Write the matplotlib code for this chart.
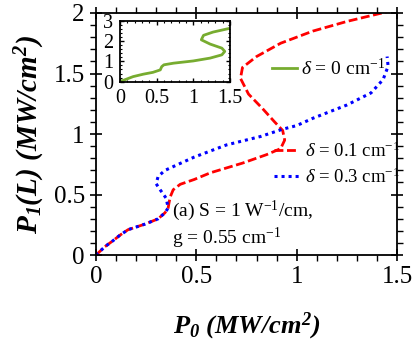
import matplotlib
matplotlib.use("Agg")
import matplotlib.pyplot as plt
from matplotlib.ticker import MultipleLocator, FuncFormatter

plt.rcParams['font.family'] = ['Liberation Serif', 'DejaVu Serif']
plt.rcParams['mathtext.fontset'] = 'custom'
plt.rcParams['mathtext.rm'] = 'Liberation Serif'
plt.rcParams['mathtext.it'] = 'Liberation Serif:italic'
plt.rcParams['mathtext.bf'] = 'Liberation Serif:bold'
plt.rcParams['mathtext.bfit'] = 'Liberation Serif:italic:bold'
plt.rcParams['mathtext.fallback'] = 'stix'

# delta = 0.1 cm^-1 (red dashed), traced as (P0, P1)
p0_d01 = [0.0, 0.045, 0.086, 0.12, 0.16, 0.244, 0.31, 0.344, 0.36, 0.364, 0.37, 0.385, 0.42,
          0.49, 0.57, 0.73, 0.85, 0.92, 0.94, 0.93, 0.89, 0.83, 0.76, 0.72, 0.73, 0.80, 0.92,
          1.08, 1.25, 1.45]
p1_d01 = [0.0, 0.07, 0.12, 0.165, 0.21, 0.256, 0.30, 0.35, 0.39, 0.43, 0.48, 0.54, 0.585,
          0.625, 0.68, 0.76, 0.83, 0.88, 0.95, 1.03, 1.10, 1.21, 1.33, 1.46, 1.55, 1.64, 1.75,
          1.85, 1.93, 2.01]

# delta = 0.3 cm^-1 (blue dotted)
p0_d03 = [0.0, 0.045, 0.086, 0.12, 0.16, 0.244, 0.31, 0.344, 0.36, 0.35, 0.32, 0.30, 0.31,
          0.344, 0.41, 0.49, 0.65, 0.82, 0.93, 1.0, 1.08, 1.25, 1.37, 1.43, 1.455, 1.45]
p1_d03 = [0.0, 0.07, 0.12, 0.165, 0.21, 0.256, 0.30, 0.35, 0.39, 0.47, 0.54, 0.59, 0.65,
          0.70, 0.75, 0.81, 0.91, 0.98, 1.04, 1.07, 1.13, 1.24, 1.34, 1.45, 1.56, 1.64]

# delta = 0 (inset, green)
p0_d00 = [0.0, 0.02, 0.18, 0.32, 0.45, 0.55, 0.57, 0.60, 0.73, 1.0, 1.23, 1.39, 1.43, 1.39,
          1.23, 1.11, 1.14, 1.27, 1.48]
p1_d00 = [0.0, 0.03, 0.25, 0.37, 0.46, 0.58, 0.74, 0.83, 0.91, 1.02, 1.16, 1.32, 1.49, 1.65,
          1.85, 2.06, 2.28, 2.44, 2.61]

fig = plt.figure(figsize=(4.15, 3.5), dpi=100)
ax = fig.add_axes([0.231, 0.271, 0.726, 0.692])

l1, = ax.plot(p0_d01, p1_d01, color='#ff0000', ls=(0, (3.2, 1.3)), lw=2.0)
l2, = ax.plot(p0_d03, p1_d03, color='#0000ff', ls=(0, (1, 1.3)), lw=2.2)

fmt = FuncFormatter(lambda v, p: '%g' % v)
ax.set_xlim(0, 1.5)
ax.set_ylim(0, 2)
ax.xaxis.set_major_locator(MultipleLocator(0.5))
ax.xaxis.set_minor_locator(MultipleLocator(0.1))
ax.yaxis.set_major_locator(MultipleLocator(0.5))
ax.yaxis.set_minor_locator(MultipleLocator(0.1))
ax.xaxis.set_major_formatter(fmt)
ax.yaxis.set_major_formatter(fmt)
ax.tick_params(which='major', direction='inout', length=9, width=1.2, labelsize=18,
               top=True, right=True)
ax.tick_params(which='minor', direction='out', length=4, width=1.0, top=True, right=True)
for s in ax.spines.values():
    s.set_linewidth(1.3)

ax.set_xlabel(r'$\mathbfit{P_0}$ $\mathbfit{(MW/cm^2)}$', fontsize=19, labelpad=16)
ax.set_ylabel(r'$\mathbfit{P_1(L)}$ $\mathbfit{(MW/cm^2)}$', fontsize=21, labelpad=5)

ax.text(0.38, 0.37, r'(a) S = 1 W$^{\mathrm{-1}}$/cm,', fontsize=14, va='center')
ax.text(0.38, 0.14, r'g = 0.55 cm$^{\mathrm{-1}}$', fontsize=14, va='center')

# inset
axi = fig.add_axes([0.289, 0.7666, 0.265, 0.1743])
l0, = axi.plot(p0_d00, p1_d00, color='#77ac30', lw=2.0)
axi.set_xlim(0, 1.5)
axi.set_ylim(0, 3)
axi.xaxis.set_major_locator(MultipleLocator(0.5))
axi.xaxis.set_minor_locator(MultipleLocator(0.1))
axi.yaxis.set_major_locator(MultipleLocator(1))
axi.yaxis.set_minor_locator(MultipleLocator(0.2))
axi.xaxis.set_major_formatter(fmt)
axi.tick_params(which='major', direction='in', length=3, width=1.0, labelsize=14.5,
                top=True, right=True, pad=5)
axi.tick_params(which='minor', direction='in', length=1.5, width=0.8, top=True, right=True)
for s in axi.spines.values():
    s.set_linewidth(1.3)

leg0 = ax.legend([l0], [r'$\delta$ = 0 cm$^{\mathrm{-1}}$'], loc='upper left',
                 bbox_to_anchor=(0.583, 0.815), frameon=False, fontsize=14,
                 handlelength=1.3, handletextpad=0.2, borderpad=0, borderaxespad=0)
ax.add_artist(leg0)
ax.legend([l1, l2], [r'$\delta$ = 0.1 cm$^{\mathrm{-1}}$', r'$\delta$ = 0.3 cm$^{\mathrm{-1}}$'],
          loc='upper left', bbox_to_anchor=(0.59, 0.47), frameon=False, fontsize=13.5,
          handlelength=1.35, handletextpad=0.3, borderpad=0, borderaxespad=0,
          labelspacing=0.35)

fig.savefig('out.png', dpi=100)
